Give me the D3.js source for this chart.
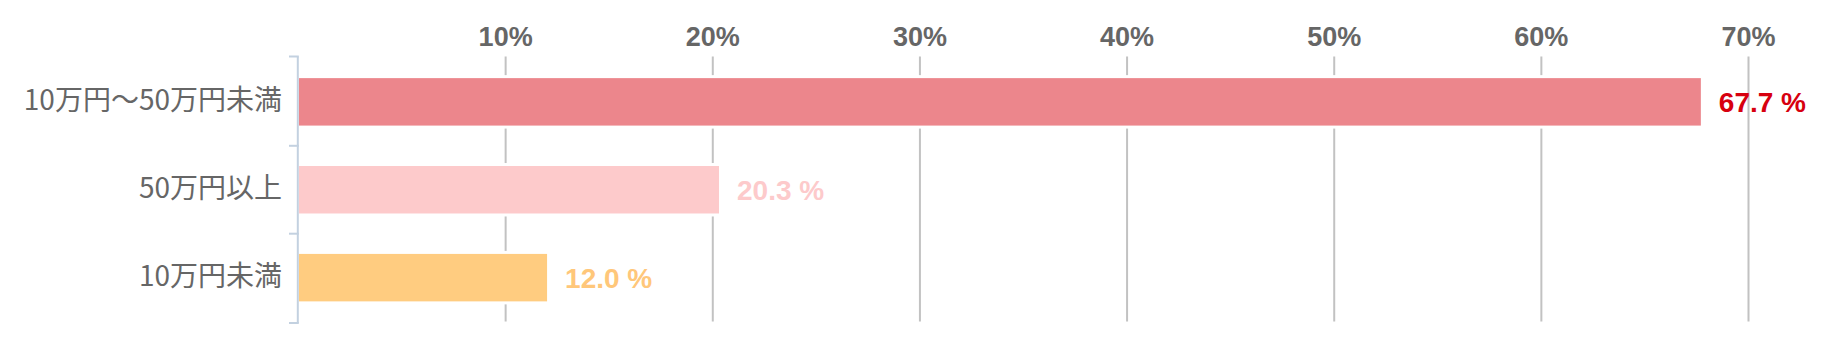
<!DOCTYPE html>
<html>
<head>
<meta charset="utf-8">
<script src="https://cdn.jsdelivr.net/npm/d3@7"></script>
<style>
  html, body { margin: 0; padding: 0; background: #fff; }
  svg { display: block; }
</style>
</head>
<body>
<svg id="chart" width="1821" height="344"></svg>
<script>
// ---- data ----
const categories = ["10万円〜50万円未満", "50万円以上", "10万円未満"];
const values = [67.7, 20.3, 12.0];
const tickValues = [10, 20, 30, 40, 50, 60, 70];
const tickLabels = ["10%", "20%", "30%", "40%", "50%", "60%", "70%"];

// ---- styles ----
const barColors = ["#ec868c", "#fdcacb", "#ffcc80"];
const labelColors = ["#d7000f", "#fdcacb", "#ffc77a"];

const svg = d3.select("#chart");

const x = d3.scaleLinear().domain([0, 70]).range([298.5, 1748.5]);
const y = d3.scaleBand().domain(categories).range([56.5, 323])
  .paddingInner(0.46).paddingOuter(0.246);

// gridlines
svg.append("g").selectAll("line").data(tickValues).join("line")
  .attr("x1", d => x(d)).attr("x2", d => x(d))
  .attr("y1", 56.5).attr("y2", 321.5)
  .attr("stroke", "#c2c2c2").attr("stroke-width", 2);

// top tick labels
svg.append("g").selectAll("text").data(tickValues).join("text")
  .attr("x", d => x(d)).attr("y", 46)
  .attr("text-anchor", "middle")
  .attr("font-family", "'Liberation Sans', Arial, Helvetica, sans-serif")
  .attr("font-weight", "bold").attr("font-size", 27)
  .attr("fill", "#666666")
  .text((d, i) => tickLabels[i]);

const rows = categories.map((c, i) => ({ c, v: values[i], i }));

// white halo behind bars (gaps in gridlines)
svg.append("g").selectAll("rect").data(rows).join("rect")
  .attr("x", x(0)).attr("y", d => y(d.c) - 3)
  .attr("width", d => x(d.v) - x(0) + 3)
  .attr("height", y.bandwidth() + 6)
  .attr("fill", "#fff");

// bars
svg.append("g").selectAll("rect").data(rows).join("rect")
  .attr("x", x(0) + 0.5).attr("y", d => y(d.c))
  .attr("width", d => x(d.v) - x(0) - 0.5)
  .attr("height", y.bandwidth())
  .attr("fill", d => barColors[d.i]);

// y axis line + boundary ticks
const step = y.step();
const gap = step * y.paddingInner();
const boundaries = [56.5].concat(categories.slice(1).map(c => y(c) - gap / 2)).concat([323]);
svg.append("line")
  .attr("x1", 297.8).attr("x2", 297.8).attr("y1", 56.5).attr("y2", 323)
  .attr("stroke", "#c3d1e0").attr("stroke-width", 2);
svg.append("g").selectAll("line").data(boundaries).join("line")
  .attr("x1", 289).attr("x2", 298.8)
  .attr("y1", d => d).attr("y2", d => d)
  .attr("stroke", "#c3d1e0").attr("stroke-width", 2);

// category labels
svg.append("g").selectAll("text").data(rows).join("text")
  .attr("x", 282).attr("y", d => y(d.c) + y.bandwidth() / 2 + 8)
  .attr("text-anchor", "end")
  .attr("font-family", "'Noto Sans CJK JP', 'Noto Sans', sans-serif")
  .attr("font-size", 28)
  .attr("fill", "#666666")
  .text(d => d.c);

// value labels
svg.append("g").selectAll("text").data(rows).join("text")
  .attr("x", d => x(d.v) + 18)
  .attr("y", d => y(d.c) + y.bandwidth() / 2 + 10)
  .attr("font-family", "'Liberation Sans', Arial, Helvetica, sans-serif")
  .attr("font-weight", "bold").attr("font-size", 28)
  .attr("fill", d => labelColors[d.i])
  .text(d => d.v.toFixed(1) + " %");
</script>
</body>
</html>
